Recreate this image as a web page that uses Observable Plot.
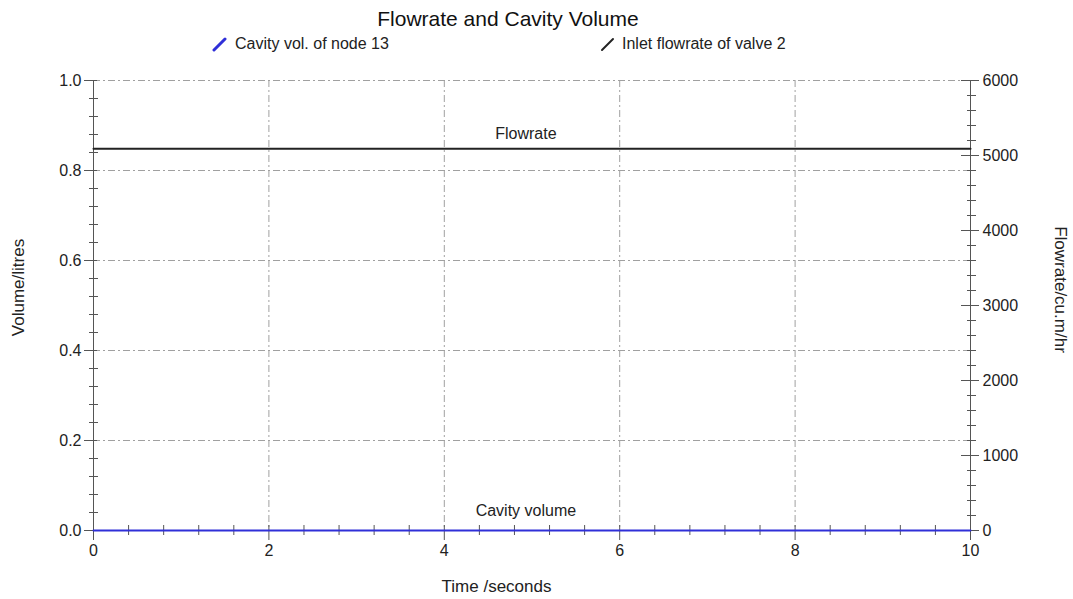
<!DOCTYPE html>
<html><head><meta charset="utf-8">
<script src="https://cdn.jsdelivr.net/npm/d3@7"></script>
<script src="https://cdn.jsdelivr.net/npm/@observablehq/plot@0.6"></script>
<style>
body{margin:0;background:#fff;font-family:"Liberation Sans",Arial,sans-serif;}
#wrap{position:relative;width:1073px;height:599px;overflow:hidden;}
#title{position:absolute;left:0;width:1016px;top:7px;line-height:24px;text-align:center;font-size:21px;color:#111;}
.leg{position:absolute;top:35px;line-height:18px;font-size:16px;color:#222;white-space:nowrap;}
#chart{position:absolute;top:60px;left:0;}
</style></head>
<body><div id="wrap">
<div id="title">Flowrate and Cavity Volume</div>
<div id="legend"></div>
<div id="chart"></div>
</div>
<script>
// ---- data ----
const time = [0, 10];                 // seconds
const cavityVolume = [0, 0];          // litres (node 13)
const inletFlowrate = [5090, 5090];   // cu.m/hr (valve 2)
const xTicks = [0, 2, 4, 6, 8, 10];
const yLeftTicks = [0, 0.2, 0.4, 0.6, 0.8, 1.0];
const yRightTicks = [0, 1000, 2000, 3000, 4000, 5000, 6000];
const rightMax = 6000;
const seriesNames = ["Cavity vol. of node 13", "Inlet flowrate of valve 2"];
const seriesColors = ["#2f2fd8", "#222222"];
const curveLabels = ["Flowrate", "Cavity volume"];
const curveLabelTime = [4.93, 4.93];

// ---- legend ----
const legend = document.getElementById("legend");
const legPos = [{icon: 212, text: 235, w: 3}, {icon: 600, text: 622, w: 2}];
seriesNames.forEach((n, i) => {
  const d = document.createElement("div");
  d.className = "leg";
  d.style.left = legPos[i].text + "px";
  d.textContent = n;
  legend.appendChild(d);
  const s = document.createElementNS("http://www.w3.org/2000/svg", "svg");
  s.setAttribute("width", 16); s.setAttribute("height", 16);
  s.style.position = "absolute";
  s.style.left = legPos[i].icon + "px";
  s.style.top = "36px";
  s.innerHTML = `<line x1="2" y1="14" x2="13" y2="3" stroke="${seriesColors[i]}" stroke-width="${legPos[i].w}" stroke-linecap="round"/>`;
  legend.appendChild(s);
});

// ---- tables ----
const volData = time.map((t, i) => ({t, v: cavityVolume[i]}));
const flowData = time.map((t, i) => ({t, q: inletFlowrate[i]}));
const labelData = [
  {t: curveLabelTime[0], y: inletFlowrate[0] / rightMax, s: curveLabels[0]},
  {t: curveLabelTime[1], y: cavityVolume[0], s: curveLabels[1]}
];
const leftMinor = d3.range(0, 26).filter(i => i % 5).map(i => i * 0.04);
const rightMinor = d3.range(0, 31).filter(i => i % 5).map(i => i * 200 / rightMax);
const xMinor = d3.range(0, 26).filter(i => i % 5).map(i => i * 0.4);

const grid = {stroke: "#a0a0a0", strokeWidth: 1, strokeDasharray: "7,3,2,3"};
const axisCol = "#555";
const font = "Liberation Sans, Arial, sans-serif";
const tickOnly = (o) => ({fill: "none", stroke: axisCol, label: null, ...o});
const textOnly = (o) => ({stroke: "none", fill: "#222", fontSize: 16, label: null, ...o});

const chart = Plot.plot({
  width: 1073,
  height: 539,
  marginTop: 20,
  marginBottom: 69,
  marginLeft: 93,
  marginRight: 103,
  style: {fontFamily: font, color: "#222", background: "#fff"},
  x: {domain: [0, 10]},
  y: {domain: [0, 1]},
  marks: [
    Plot.ruleY(yLeftTicks.filter(d => d > 0), grid),
    Plot.ruleX(xTicks.filter(d => d > 0 && d < 10), grid),
    Plot.ruleX([0], {stroke: axisCol}),
    Plot.ruleX([10], {stroke: axisCol}),
    Plot.ruleY([0], {stroke: axisCol}),
    // ticks
    Plot.axisY(yLeftTicks, tickOnly({anchor: "left", tickSize: 13, dx: 4})),
    Plot.axisY(leftMinor, tickOnly({anchor: "left", tickSize: 9, dx: 5})),
    Plot.axisY(yRightTicks.map(d => d / rightMax), tickOnly({anchor: "right", tickSize: 18, dx: -10})),
    Plot.axisY(rightMinor, tickOnly({anchor: "right", tickSize: 9, dx: -4})),
    Plot.axisX(xTicks, tickOnly({anchor: "bottom", tickSize: 15, dy: -5})),
    Plot.axisX(xMinor, tickOnly({anchor: "bottom", tickSize: 10, dy: -5})),
    // tick labels
    Plot.axisY(yLeftTicks, textOnly({anchor: "left", tickSize: 10, tickPadding: 2, tickFormat: d3.format(".1f")})),
    Plot.axisY(yRightTicks.map(d => d / rightMax), textOnly({anchor: "right", tickSize: 10, tickPadding: 2, tickFormat: d => String(Math.round(d * rightMax))})),
    Plot.axisX(xTicks, textOnly({anchor: "bottom", tickSize: 10, tickPadding: 4, tickFormat: d => String(d)})),
    // series
    Plot.line(flowData, {x: "t", y: d => d.q / rightMax, stroke: seriesColors[1], strokeWidth: 2}),
    Plot.line(volData, {x: "t", y: "v", stroke: seriesColors[0], strokeWidth: 2}),
    // curve labels
    Plot.text([labelData[0]], {x: "t", y: "y", text: "s", dy: -15, fontSize: 16, fill: "#222"}),
    Plot.text([labelData[1]], {x: "t", y: "y", text: "s", dy: -20, fontSize: 16, fill: "#222"}),
    // axis titles
    Plot.text(["Volume/litres"], {text: d => d, frameAnchor: "left", textAnchor: "middle", lineAnchor: "middle", rotate: -90, dx: -75, dy: -18, fontSize: 17, fill: "#222"}),
    Plot.text(["Flowrate/cu.m/hr"], {text: d => d, frameAnchor: "right", textAnchor: "middle", lineAnchor: "middle", rotate: 90, dx: 90, dy: -16, fontSize: 17, fill: "#222"}),
    Plot.text(["Time /seconds"], {text: d => d, frameAnchor: "bottom", textAnchor: "middle", lineAnchor: "middle", dx: -35.5, dy: 56, fontSize: 17, fill: "#222"})
  ]
});
document.getElementById("chart").appendChild(chart);
</script>
</body></html>
